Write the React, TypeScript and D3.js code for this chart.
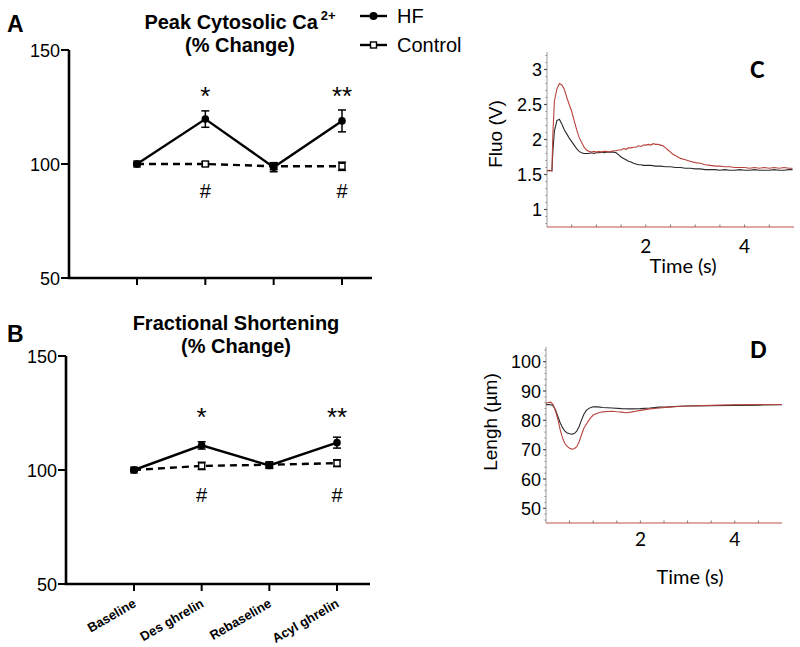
import React from "react";
import * as d3 from "d3";

// ---------- Data ----------
const categories = ["Baseline", "Des ghrelin", "Rebaseline", "Acyl ghrelin"];
const yTicksAB = [50, 100, 150];

// Panel A: Peak cytosolic Ca2+ (% change)
const caHF = [100, 119.7, 98.6, 118.9];
const caHFErr = [0.4, 3.6, 2.0, 4.8];
const caCtl = [100, 100, 99, 99];
const caCtlErr = [0.4, 1.0, 1.5, 1.8];

// Panel B: Fractional shortening (% change)
const fsHF = [100, 110.8, 102, 112];
const fsHFErr = [0.4, 1.6, 1.3, 2.4];
const fsCtl = [100, 101.8, 102.3, 103];
const fsCtlErr = [0.4, 1.6, 1.0, 1.5];

const sigStar = ["", "*", "", "**"];
const sigHash = ["", "#", "", "#"];

// Panel C: Fluo (V) traces, [time s, value]
const fluoRed: [number, number][] = [
  [0, 1.56], [0.05, 1.55], [0.1, 1.56], [0.12, 2.1], [0.15, 2.55], [0.2, 2.72], [0.25, 2.8],
  [0.3, 2.78], [0.35, 2.72], [0.4, 2.6], [0.45, 2.5], [0.5, 2.4], [0.55, 2.27], [0.6, 2.14],
  [0.65, 2.03], [0.7, 1.96], [0.75, 1.89], [0.8, 1.85], [0.85, 1.83], [0.9, 1.82], [0.95, 1.83],
  [1.0, 1.82], [1.05, 1.83], [1.1, 1.82], [1.15, 1.83], [1.2, 1.83], [1.25, 1.82], [1.3, 1.83],
  [1.35, 1.84], [1.4, 1.84], [1.45, 1.85], [1.5, 1.85], [1.55, 1.87], [1.6, 1.86], [1.65, 1.88],
  [1.7, 1.88], [1.75, 1.89], [1.8, 1.89], [1.85, 1.91], [1.9, 1.9], [1.95, 1.92], [2.0, 1.92],
  [2.05, 1.93], [2.1, 1.92], [2.15, 1.94], [2.2, 1.93], [2.25, 1.93], [2.3, 1.92], [2.35, 1.91],
  [2.4, 1.88], [2.45, 1.85], [2.5, 1.82], [2.55, 1.79], [2.6, 1.77], [2.65, 1.75], [2.7, 1.73],
  [2.8, 1.71], [2.9, 1.69], [3.0, 1.67], [3.1, 1.66], [3.2, 1.64], [3.3, 1.63], [3.4, 1.62],
  [3.5, 1.62], [3.6, 1.61], [3.7, 1.61], [3.8, 1.6], [3.9, 1.6], [4.0, 1.6], [4.1, 1.59],
  [4.2, 1.6], [4.3, 1.59], [4.4, 1.6], [4.5, 1.59], [4.6, 1.6], [4.7, 1.59], [4.8, 1.6],
  [4.9, 1.59], [4.97, 1.59],
];
const fluoBlack: [number, number][] = [
  [0, 1.55], [0.05, 1.56], [0.1, 1.55], [0.12, 1.85], [0.15, 2.12], [0.2, 2.27], [0.25, 2.29],
  [0.3, 2.22], [0.35, 2.14], [0.4, 2.08], [0.45, 2.02], [0.5, 1.97], [0.55, 1.92], [0.6, 1.87],
  [0.65, 1.83], [0.7, 1.81], [0.75, 1.8], [0.8, 1.8], [0.85, 1.8], [0.9, 1.81], [0.95, 1.8],
  [1.0, 1.81], [1.05, 1.81], [1.1, 1.82], [1.15, 1.81], [1.2, 1.82], [1.25, 1.82], [1.3, 1.82],
  [1.35, 1.82], [1.4, 1.81], [1.45, 1.78], [1.5, 1.75], [1.55, 1.73], [1.6, 1.71], [1.65, 1.69],
  [1.7, 1.68], [1.75, 1.66], [1.8, 1.65], [1.85, 1.64], [1.9, 1.64], [1.95, 1.63], [2.0, 1.63],
  [2.1, 1.63], [2.2, 1.62], [2.3, 1.62], [2.4, 1.61], [2.5, 1.61], [2.6, 1.6], [2.7, 1.6],
  [2.8, 1.59], [2.9, 1.59], [3.0, 1.58], [3.1, 1.58], [3.2, 1.57], [3.3, 1.57], [3.4, 1.57],
  [3.5, 1.56], [3.6, 1.57], [3.7, 1.56], [3.8, 1.56], [3.9, 1.57], [4.0, 1.56], [4.1, 1.56],
  [4.2, 1.57], [4.3, 1.56], [4.4, 1.56], [4.5, 1.56], [4.6, 1.57], [4.7, 1.56], [4.8, 1.56],
  [4.9, 1.57], [4.97, 1.57],
];
const fluoTicks = [1, 1.5, 2, 2.5, 3];
const fluoTickLabels = ["1", "1.5", "2", "2.5", "3"];

// Panel D: Length (µm) traces, [time s, value]
const lenRed: [number, number][] = [
  [0, 85.8], [0.05, 86.1], [0.1, 86.2], [0.15, 85.4], [0.2, 83.2], [0.25, 80.5], [0.3, 76.8],
  [0.35, 74.0], [0.4, 72.1], [0.45, 71.1], [0.5, 70.5], [0.55, 70.2], [0.6, 70.3], [0.65, 71.0],
  [0.7, 72.6], [0.75, 75.0], [0.8, 77.2], [0.85, 78.6], [0.9, 79.8], [0.95, 80.9], [1.0, 81.8],
  [1.1, 82.5], [1.2, 82.9], [1.3, 83.0], [1.4, 83.1], [1.5, 82.9], [1.6, 82.8], [1.7, 82.6],
  [1.8, 82.8], [1.9, 83.1], [2.0, 83.4], [2.2, 83.9], [2.4, 84.2], [2.6, 84.5], [2.8, 84.7],
  [3.0, 84.9], [3.5, 85.1], [4.0, 85.3], [4.5, 85.4], [5.0, 85.4],
];
const lenBlack: [number, number][] = [
  [0, 85.3], [0.05, 85.4], [0.1, 85.3], [0.15, 85.0], [0.2, 83.6], [0.25, 81.4], [0.3, 79.2],
  [0.35, 77.5], [0.4, 76.3], [0.45, 75.7], [0.5, 75.4], [0.55, 75.3], [0.6, 75.5], [0.65, 76.3],
  [0.7, 77.8], [0.75, 80.0], [0.8, 82.0], [0.85, 83.3], [0.9, 84.0], [0.95, 84.4], [1.0, 84.6],
  [1.1, 84.6], [1.2, 84.4], [1.4, 84.2], [1.6, 84.0], [1.8, 83.9], [2.0, 84.0], [2.2, 84.2],
  [2.4, 84.5], [2.6, 84.6], [2.8, 84.8], [3.0, 84.9], [3.5, 85.0], [4.0, 85.1], [4.5, 85.2],
  [5.0, 85.3],
];
const lenTicks = [50, 60, 70, 80, 90, 100];
const timeTicks = [2, 4];

// ---------- Components ----------
const ARIAL = "'Liberation Sans', Arial, sans-serif";
const CALIBRI = "Lato, 'Open Sans', sans-serif";

type PanelProps = {
  label: string;
  title1: React.ReactNode;
  title2: string;
  hf: number[];
  hfErr: number[];
  ctl: number[];
  ctlErr: number[];
  axisX: number;
  xEnd: number;
  yTop: number;
  yBot: number;
  catRange: [number, number];
  labelY: number;
  titleX: number;
  title1Y: number;
  title2Y: number;
  starY: number;
  hashY: number;
  showCats: boolean;
};

function LinePanel(p: PanelProps) {
  const x = d3.scalePoint<string>().domain(categories).range(p.catRange);
  const y = d3.scaleLinear().domain([50, 150]).range([p.yBot, p.yTop]);
  const line = d3
    .line<number>()
    .x((_, i) => x(categories[i]) as number)
    .y((d) => y(d));
  const errBar = (vals: number[], errs: number[], key: string) =>
    vals.map((v, i) => {
      const cx = x(categories[i]) as number;
      const t = y(v + errs[i]);
      const b = y(v - errs[i]);
      return (
        <g key={key + i} stroke="#000" strokeWidth={1.5}>
          <line x1={cx} x2={cx} y1={t} y2={b} />
          <line x1={cx - 4} x2={cx + 4} y1={t} y2={t} />
          <line x1={cx - 4} x2={cx + 4} y1={b} y2={b} />
        </g>
      );
    });
  return (
    <g>
      <text x={7} y={p.labelY} fontFamily={ARIAL} fontWeight="bold" fontSize={23}>
        {p.label}
      </text>
      <text x={p.titleX} y={p.title1Y} textAnchor="middle" fontFamily={ARIAL} fontWeight="bold" fontSize={20}>
        {p.title1}
      </text>
      <text x={p.titleX} y={p.title2Y} textAnchor="middle" fontFamily={ARIAL} fontWeight="bold" fontSize={20}>
        {p.title2}
      </text>
      {/* axes */}
      <line x1={p.axisX} x2={p.axisX} y1={p.yTop} y2={p.yBot} stroke="#000" strokeWidth={2.6} />
      <line x1={p.axisX - 1.3} x2={p.xEnd} y1={p.yBot} y2={p.yBot} stroke="#000" strokeWidth={2.6} />
      {yTicksAB.map((t) => (
        <g key={"yt" + t}>
          <line x1={p.axisX - 8} x2={p.axisX} y1={y(t)} y2={y(t)} stroke="#000" strokeWidth={2} />
          <text x={p.axisX - 9} y={y(t) + 6.5} textAnchor="end" fontFamily={ARIAL} fontSize={18}>
            {t}
          </text>
        </g>
      ))}
      {categories.map((c) => (
        <g key={"xt" + c}>
          <line x1={x(c)} x2={x(c)} y1={p.yBot} y2={p.yBot + 7} stroke="#000" strokeWidth={2} />
          {p.showCats && (
            <text
              transform={`translate(${(x(c) as number) + 3},${p.yBot + 22}) rotate(-30)`}
              textAnchor="end"
              fontFamily={ARIAL}
              fontWeight="bold"
              fontSize={13}
            >
              {c}
            </text>
          )}
        </g>
      ))}
      {/* control dashed */}
      <path d={line(p.ctl) as string} fill="none" stroke="#000" strokeWidth={2.4} strokeDasharray="7,5" />
      {errBar(p.ctl, p.ctlErr, "ce")}
      {/* HF solid */}
      <path d={line(p.hf) as string} fill="none" stroke="#000" strokeWidth={2.4} />
      {errBar(p.hf, p.hfErr, "he")}
      {p.ctl.map((v, i) => (
        <rect
          key={"cm" + i}
          x={(x(categories[i]) as number) - 3}
          y={y(v) - 3}
          width={6}
          height={6}
          fill="#fff"
          stroke="#000"
          strokeWidth={1.4}
        />
      ))}
      {p.hf.map((v, i) => (
        <circle key={"hm" + i} cx={x(categories[i]) as number} cy={y(v)} r={3.8} fill="#000" />
      ))}
      {sigStar.map((s, i) =>
        s ? (
          <text key={"s" + i} x={x(categories[i]) as number} y={p.starY} textAnchor="middle" fontFamily={ARIAL} fontSize={26}>
            {s}
          </text>
        ) : null
      )}
      {sigHash.map((s, i) =>
        s ? (
          <text key={"h" + i} x={x(categories[i]) as number} y={p.hashY} textAnchor="middle" fontFamily={ARIAL} fontSize={20}>
            {s}
          </text>
        ) : null
      )}
    </g>
  );
}

type TraceProps = {
  red: [number, number][];
  black: [number, number][];
  yDomain: [number, number];
  xRange: [number, number];
  yRange: [number, number];
  ticks: number[];
  tickLabels: string[];
  minorStep: number;
  ylabel: string;
  ylabelX: number;
  ylabelY: number;
  letter: string;
  letterY: number;
  xTickY: number;
  xLabelY: number;
  xLabelX: number;
};

function TracePanel(p: TraceProps) {
  const x = d3.scaleLinear().domain([0, 5]).range(p.xRange);
  const y = d3.scaleLinear().domain(p.yDomain).range(p.yRange);
  const ln = d3
    .line<[number, number]>()
    .x((d) => x(d[0]))
    .y((d) => y(d[1]));
  const minor = d3.range(Math.ceil(p.yDomain[0] / p.minorStep) * p.minorStep, p.yDomain[1], p.minorStep);
  const xMinor = d3.range(0.5, 5, 0.5);
  return (
    <g>
      <line x1={p.xRange[0]} x2={p.xRange[0]} y1={p.yRange[1]} y2={p.yRange[0]} stroke="#9a9a9a" strokeWidth={1} />
      {minor.map((m, i) => (
        <line key={"mn" + i} x1={p.xRange[0] - 1.5} x2={p.xRange[0]} y1={y(m)} y2={y(m)} stroke="#888" strokeWidth={1} />
      ))}
      {p.ticks.map((t, i) => (
        <g key={"t" + i}>
          <line x1={p.xRange[0] - 3} x2={p.xRange[0]} y1={y(t)} y2={y(t)} stroke="#555" strokeWidth={1.2} />
          <text x={p.xRange[0] - 5} y={y(t) + 6.5} textAnchor="end" fontFamily={ARIAL} fontSize={18}>
            {p.tickLabels[i]}
          </text>
        </g>
      ))}
      {xMinor.map((m, i) => (
        <line key={"xm" + i} x1={x(m)} x2={x(m)} y1={p.yRange[0]} y2={p.yRange[0] - 2.5} stroke="#777" strokeWidth={1} />
      ))}
      <line x1={p.xRange[0]} x2={p.xRange[1]} y1={p.yRange[0]} y2={p.yRange[0]} stroke="#c0504d" strokeWidth={1.2} />
      {timeTicks.map((t) => (
        <text key={"xt" + t} x={x(t)} y={p.xTickY} textAnchor="middle" fontFamily={CALIBRI} fontSize={19}>
          {t}
        </text>
      ))}
      <text x={p.xLabelX} y={p.xLabelY} textAnchor="middle" fontFamily={CALIBRI} fontSize={20}>
        Time (s)
      </text>
      <text
        transform={`translate(${p.ylabelX},${p.ylabelY}) rotate(-90)`}
        textAnchor="middle"
        fontFamily={ARIAL}
        fontSize={19}
      >
        {p.ylabel}
      </text>
      <text x={750} y={p.letterY} fontFamily={CALIBRI} fontWeight="900" fontSize={22}>
        {p.letter}
      </text>
      <path d={ln(p.black) as string} fill="none" stroke="#2a2a2a" strokeWidth={1.1} />
      <path d={ln(p.red) as string} fill="none" stroke="#b8433c" strokeWidth={1.1} />
    </g>
  );
}

export default function App() {
  return (
    <div style={{ position: "absolute", left: 0, top: 0 }}>
      <svg width={800} height={647} viewBox="0 0 800 647" style={{ display: "block", background: "#fff" }}>
        <rect width={800} height={647} fill="#fff" />
        <LinePanel
          label="A"
          title1={
            <>
              Peak Cytosolic Ca
              <tspan dx={3} dy={-9} fontSize={13}>
                2+
              </tspan>
            </>
          }
          title2="(% Change)"
          hf={caHF}
          hfErr={caHFErr}
          ctl={caCtl}
          ctlErr={caCtlErr}
          axisX={69}
          xEnd={372}
          yTop={50}
          yBot={278}
          catRange={[137, 342]}
          labelY={32}
          titleX={240}
          title1Y={29}
          title2Y={52}
          starY={105}
          hashY={198}
          showCats={false}
        />
        <LinePanel
          label="B"
          title1="Fractional Shortening"
          title2="(% Change)"
          hf={fsHF}
          hfErr={fsHFErr}
          ctl={fsCtl}
          ctlErr={fsCtlErr}
          axisX={66}
          xEnd={370}
          yTop={356}
          yBot={584}
          catRange={[134, 337]}
          labelY={342}
          titleX={236}
          title1Y={330}
          title2Y={353}
          starY={426}
          hashY={502}
          showCats={true}
        />
        {/* Legend */}
        <g>
          <line x1={360} x2={387} y1={16} y2={16} stroke="#000" strokeWidth={2.4} />
          <circle cx={373.5} cy={16} r={4} fill="#000" />
          <text x={397} y={23} fontFamily={ARIAL} fontSize={20}>
            HF
          </text>
          <line x1={360} x2={387} y1={45} y2={45} stroke="#000" strokeWidth={2.4} />
          <rect x={370.5} y={42} width={6} height={6} fill="#fff" stroke="#000" strokeWidth={1.4} />
          <text x={397} y={52} fontFamily={ARIAL} fontSize={20}>
            Control
          </text>
        </g>
        <TracePanel
          red={fluoRed}
          black={fluoBlack}
          yDomain={[0.75, 3.25]}
          xRange={[547, 794]}
          yRange={[227, 52]}
          ticks={fluoTicks}
          tickLabels={fluoTickLabels}
          minorStep={0.1}
          ylabel="Fluo (V)"
          ylabelX={502}
          ylabelY={134}
          letter="C"
          letterY={78}
          xTickY={253}
          xLabelY={273}
          xLabelX={683}
        />
        <TracePanel
          red={lenRed}
          black={lenBlack}
          yDomain={[45, 105]}
          xRange={[546, 782]}
          yRange={[523, 347]}
          ticks={lenTicks}
          tickLabels={lenTicks.map(String)}
          minorStep={2}
          ylabel="Lengh (µm)"
          ylabelX={497}
          ylabelY={422}
          letter="D"
          letterY={358}
          xTickY={546}
          xLabelY={584}
          xLabelX={690}
        />
      </svg>
    </div>
  );
}
